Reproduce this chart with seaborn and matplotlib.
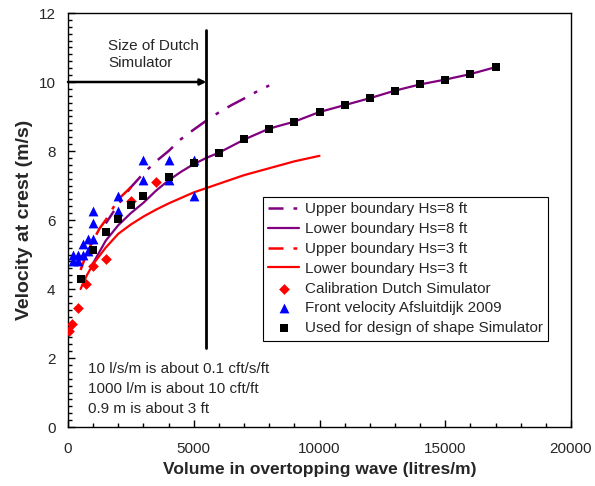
import matplotlib
matplotlib.use("Agg")
import matplotlib.pyplot as plt
from matplotlib.ticker import MultipleLocator
import seaborn as sns

# --- data ---
upper8_x = [1500, 2000, 2500, 3000, 3500, 4000, 4500, 5000, 5500, 6000, 6500, 7000, 7500, 8000]
upper8_y = [5.9, 6.45, 6.95, 7.35, 7.7, 8.0, 8.35, 8.62, 8.88, 9.12, 9.33, 9.52, 9.72, 9.9]

lower8_x = [1000, 1500, 2000, 2500, 3000, 3500, 4000, 4500, 5000, 5500, 6000, 7000, 8000,
            9000, 10000, 11000, 12000, 13000, 14000, 15000, 16000, 17000]
lower8_y = [4.75, 5.4, 5.85, 6.2, 6.5, 6.85, 7.15, 7.4, 7.62, 7.8, 7.95, 8.33, 8.65,
            8.85, 9.13, 9.33, 9.53, 9.75, 9.93, 10.07, 10.23, 10.43]

upper3_x = [500, 750, 1000, 1250, 1500, 1750, 2000, 2500]
upper3_y = [4.55, 5.05, 5.4, 5.75, 6.0, 6.3, 6.6, 6.95]

lower3_x = [500, 750, 1000, 1500, 2000, 2500, 3000, 3500, 4000, 5000, 6000, 7000, 8000, 9000, 10000]
lower3_y = [4.0, 4.4, 4.72, 5.2, 5.6, 5.87, 6.1, 6.3, 6.48, 6.8, 7.05, 7.3, 7.5, 7.7, 7.86]

calib_x = [50, 150, 400, 700, 1000, 1500, 2500, 3500]
calib_y = [2.78, 3.0, 3.44, 4.14, 4.67, 4.87, 6.55, 7.1]

front_x = [200, 200, 400, 400, 600, 600, 800, 800, 1000, 1000, 1000,
           2000, 2000, 3000, 3000, 4000, 4000, 5000, 5000]
front_y = [4.8, 5.0, 4.8, 5.0, 5.0, 5.3, 5.1, 5.45, 5.45, 5.9, 6.25,
           6.25, 6.7, 7.15, 7.75, 7.15, 7.75, 7.75, 6.7]

design_x = [500, 1000, 1500, 2000, 2500, 3000, 4000, 5000, 6000, 7000, 8000, 9000,
            10000, 11000, 12000, 13000, 14000, 15000, 16000, 17000]
design_y = [4.29, 5.13, 5.64, 6.02, 6.43, 6.7, 7.24, 7.64, 7.95, 8.35, 8.65, 8.83,
            9.13, 9.33, 9.53, 9.75, 9.93, 10.05, 10.23, 10.43]

sim_size = 5500
notes = ["10 l/s/m is about 0.1 cft/s/ft", "1000 l/m is about 10 cft/ft", "0.9 m is about 3 ft"]

sns.set_style("ticks")
plt.rcParams["font.family"] = ["Liberation Sans", "DejaVu Sans"]

fig = plt.figure(figsize=(5.95, 4.86), dpi=100)
ax = fig.add_axes([68 / 595, 59 / 486, 503 / 595, 414 / 486])

purple = "#800080"
red = "#ff0000"
dash = (2, (8, 4, 1.5, 4))

sns.lineplot(x=upper8_x, y=upper8_y, color=purple, lw=1.8, linestyle=dash,
             label="Upper boundary Hs=8 ft", ax=ax)
sns.lineplot(x=lower8_x, y=lower8_y, color=purple, lw=1.6,
             label="Lower boundary Hs=8 ft", ax=ax)
sns.lineplot(x=upper3_x, y=upper3_y, color=red, lw=1.8, linestyle=dash,
             label="Upper boundary Hs=3 ft", ax=ax)
sns.lineplot(x=lower3_x, y=lower3_y, color=red, lw=1.6,
             label="Lower boundary Hs=3 ft", ax=ax)
sns.scatterplot(x=calib_x, y=calib_y, color=red, marker="D", s=30, linewidth=0,
                label="Calibration Dutch Simulator", ax=ax, zorder=3)
sns.scatterplot(x=front_x, y=front_y, color="#0000ff", marker="^", s=50, linewidth=0,
                label="Front velocity Afsluitdijk 2009", ax=ax, zorder=4)
sns.scatterplot(x=design_x, y=design_y, color="black", marker="s", s=40, linewidth=0,
                label="Used for design of shape Simulator", ax=ax, zorder=5)

# size of the Dutch simulator
ax.plot([sim_size, sim_size], [2.3, 11.5], color="black", lw=2, zorder=6)
ax.annotate("", xy=(sim_size, 10), xytext=(0, 10),
            arrowprops=dict(arrowstyle="-|>", color="black", lw=1.8, mutation_scale=9,
                            shrinkA=0, shrinkB=0), zorder=6)
ax.text(1600, 10.8, "Size of Dutch\nSimulator", fontsize=11, va="center", ha="left",
        linespacing=1.2)

for i, t in enumerate(notes):
    ax.text(800, 1.67 - i * 0.58, t, fontsize=11, va="center", ha="left")

ax.set_xlim(0, 20000)
ax.set_ylim(0, 12)
ax.xaxis.set_major_locator(MultipleLocator(5000))
ax.xaxis.set_minor_locator(MultipleLocator(1000))
ax.yaxis.set_major_locator(MultipleLocator(2))
ax.yaxis.set_minor_locator(MultipleLocator(0.2))
ax.tick_params(which="both", direction="in", color="black", width=1)
ax.tick_params(which="major", length=5, labelsize=11)
ax.tick_params(which="minor", length=3)
ax.tick_params(axis="x", which="major", pad=11)
ax.tick_params(axis="y", which="major", pad=9)
for s in ax.spines.values():
    s.set_color("black")
    s.set_linewidth(1)

ax.set_xlabel("Volume in overtopping wave (litres/m)", fontsize=12.5, fontweight="bold", labelpad=4)
ax.set_ylabel("Velocity at crest (m/s)", fontsize=14, fontweight="bold", labelpad=4)

leg = ax.legend(loc="upper left", bbox_to_anchor=((263 - 68) / 503, (427 - 197) / 414),
                borderaxespad=0, fontsize=11, frameon=True, fancybox=False,
                edgecolor="black", framealpha=1, handlelength=2.0, handletextpad=0.4,
                labelspacing=0.38, borderpad=0.35)
leg.get_frame().set_linewidth(0.8)

fig.savefig("out.png", dpi=100)
